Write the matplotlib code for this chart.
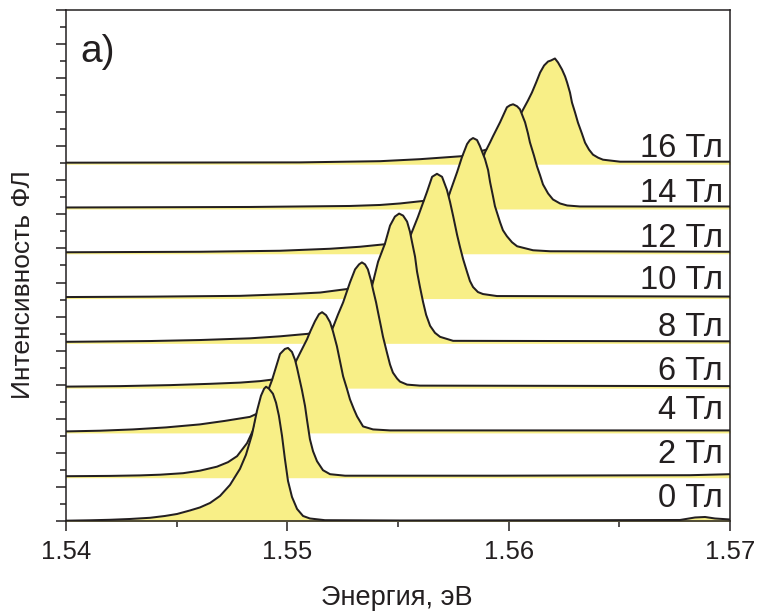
import matplotlib
matplotlib.use('Agg')
import matplotlib.pyplot as plt
from matplotlib.ticker import MultipleLocator, FormatStrFormatter

plt.rcParams['font.family'] = ['Liberation Sans', 'DejaVu Sans']

# magnetic fields (T) and their labels
fields = [0, 2, 4, 6, 8, 10, 12, 14, 16]
labels = [f"{b} Тл" for b in fields]
# vertical offsets of each spectrum (arb. units)
offsets = [0, 44.7, 89.4, 134.1, 178.8, 223.5, 268.2, 312.9, 357.6]

# PL spectra: energy (eV) and intensity (arb. units)
E0 = [1.5400, 1.54108, 1.54199, 1.54289, 1.54380, 1.54447, 1.54502, 1.54560, 1.54605, 1.54651,
      1.54696, 1.54741, 1.54786, 1.54813, 1.54840, 1.54863, 1.54881, 1.54895, 1.54904, 1.54917,
      1.54935, 1.54949, 1.54962, 1.54976, 1.54989, 1.55003, 1.55021, 1.55044, 1.55071, 1.55102,
      1.55170, 1.55509, 1.56413, 1.56774, 1.56842, 1.56887, 1.56932, 1.5700]
I0 = [0.3, 0.7, 1.2, 2.0, 3.2, 5, 7, 10.5, 13.5, 18,
      25, 36, 52, 66, 86, 110, 125, 132, 134, 132,
      127, 118, 105, 85, 62, 40, 24, 12, 5, 2.5,
      0.8, 0.5, 0.8, 1.0, 3.5, 4, 2.5, 1.5]

E2 = [1.5400, 1.54199, 1.54334, 1.54425, 1.54529, 1.54605, 1.54682, 1.54732, 1.54773, 1.54818,
      1.54854, 1.54890, 1.54931, 1.54967, 1.54989, 1.55003, 1.55021, 1.55035, 1.55044, 1.55066,
      1.55080, 1.55089, 1.55102, 1.55116, 1.55134, 1.55161, 1.55193, 1.55261, 1.55961, 1.56819,
      1.5700]
I2 = [0, 0.3, 0.8, 1.5, 3, 5.5, 9.5, 14, 20, 33,
      50, 72, 96, 122, 127, 128, 124, 116, 108, 86,
      70, 56, 37, 25, 15, 6, 2, 0.5, 0.5, 1,
      2]

E4 = [1.5400, 1.54154, 1.54303, 1.54452, 1.54605, 1.54718, 1.54831, 1.54886, 1.54944, 1.55012,
      1.55057, 1.55089, 1.55102, 1.55125, 1.55143, 1.55157, 1.55175, 1.55193, 1.55206, 1.55224,
      1.55238, 1.55252, 1.55270, 1.55283, 1.55301, 1.55315, 1.55342, 1.55387, 1.55464, 1.5700]
I4 = [0, 0.7, 2, 4, 7, 10.5, 14.5, 20, 35, 58,
      78, 92, 99, 110, 117, 119, 116, 109, 100, 85,
      70, 55, 42, 32, 22, 15, 5, 2, 1, 1]

E6 = [1.5400, 1.54244, 1.54470, 1.54651, 1.54786, 1.54877, 1.54931, 1.55012, 1.55102, 1.55170,
      1.55206, 1.55229, 1.55252, 1.55283, 1.55306, 1.55324, 1.55337, 1.55351, 1.55364, 1.55378,
      1.55387, 1.55401, 1.55410, 1.55423, 1.55432, 1.55450, 1.55464, 1.55477, 1.55496, 1.55509,
      1.55541, 1.55599, 1.5700]
I6 = [0, 0.5, 1.5, 2.8, 4, 5.5, 7, 12, 22, 40,
      59, 72, 84, 104, 117, 122, 124, 122, 117, 106,
      97, 84, 74, 60, 50, 34, 22, 14, 8, 5,
      2, 1, 0.5]

E8 = [1.5400, 1.54380, 1.54605, 1.54831, 1.54967, 1.55093, 1.55193, 1.55283, 1.55351, 1.55383,
      1.55410, 1.55441, 1.55464, 1.55486, 1.55505, 1.55523, 1.55541, 1.55554, 1.55563, 1.55577,
      1.55586, 1.55599, 1.55613, 1.55627, 1.55645, 1.55667, 1.55690, 1.55749, 1.5700]
I8 = [0, 0.8, 1.8, 3.5, 5.5, 8, 13, 28, 45, 56,
      80, 98, 116, 125, 128, 126, 120, 110, 100, 85,
      70, 55, 40, 27, 16, 9, 5, 1, 0.5]

E10 = [1.5400, 1.54380, 1.54786, 1.55012, 1.55148, 1.55270, 1.55374, 1.55464, 1.55532, 1.55554,
       1.55590, 1.55631, 1.55654, 1.55676, 1.55699, 1.55721, 1.55735, 1.55749, 1.55767, 1.55780,
       1.55794, 1.55812, 1.55825, 1.55839, 1.55861, 1.55884, 1.55947, 1.5700]
I10 = [0, 0.4, 1.2, 3, 4.5, 8, 14, 28, 45, 60,
       80, 105, 120, 123, 120, 107, 95, 81, 62, 50,
       38, 25, 16, 10, 5, 3, 1, 0.5]

E12 = [1.5400, 1.54605, 1.54967, 1.55193, 1.55328, 1.55441, 1.55554, 1.55645, 1.55712, 1.55735,
       1.55767, 1.55789, 1.55812, 1.55825, 1.55839, 1.55857, 1.55870, 1.55893, 1.55907, 1.55916,
       1.55929, 1.55938, 1.55961, 1.55974, 1.55992, 1.56015, 1.56038, 1.56110, 1.56187, 1.5700]
I12 = [0, 0.5, 1.5, 3.5, 5.5, 8, 14, 25, 45, 60,
       80, 95, 108, 112, 114, 112, 106, 93, 82, 70,
       56, 46, 30, 22, 16, 10, 6, 2, 1, 0.5]

E14 = [1.5400, 1.54831, 1.55283, 1.55419, 1.55509, 1.55613, 1.55735, 1.55825, 1.55870, 1.55893,
       1.55916, 1.55929, 1.55961, 1.55992, 1.56006, 1.56020, 1.56038, 1.56051, 1.56074, 1.56087,
       1.56096, 1.56114, 1.56128, 1.56142, 1.56155, 1.56178, 1.56200, 1.56232, 1.56264, 1.56322,
       1.5700]
I14 = [0, 0.5, 1.5, 2.5, 4, 6.5, 13, 23, 40, 55,
       65, 71, 85, 100, 102, 103, 101, 98, 85, 74,
       65, 52, 41, 32, 23, 14, 8, 4, 2, 1,
       1]

E16 = [1.5400, 1.55057, 1.55419, 1.55599, 1.55789, 1.55916, 1.55983, 1.56029, 1.56065, 1.56087,
       1.56105, 1.56124, 1.56142, 1.56160, 1.56178, 1.56191, 1.56209, 1.56223, 1.56241, 1.56255,
       1.56264, 1.56277, 1.56286, 1.56300, 1.56313, 1.56331, 1.56345, 1.56363, 1.56381, 1.56404,
       1.56426, 1.56503, 1.5700]
I16 = [0, 0.3, 1.5, 3.5, 6.5, 14, 25, 38, 53, 62,
       70, 80, 90, 97, 101, 102, 104, 100, 93, 86,
       80, 70, 60, 50, 40, 29, 20, 13, 8, 5,
       3, 1, 1]

energies = [E0, E2, E4, E6, E8, E10, E12, E14, E16]
intensities = [I0, I2, I4, I6, I8, I10, I12, I14, I16]

# label vertical padding above each baseline (style)
label_pad = [14, 13, 12, 7, 6, 8, 5, 5, 6]

ink = '#231F20'
fill = '#F8EF87'

fig = plt.figure(figsize=(7.61, 6.13), dpi=100)
ax = fig.add_axes([0.0867, 0.1501, 0.8726, 0.8336])

n = len(fields)
for k in range(n):
    e = energies[k]
    y = [v + offsets[k] for v in intensities[k]]
    z = 2 * (n - k)
    ax.fill_between(e, y, offsets[k] - 1.5, color=fill, lw=0, zorder=z)
    ax.plot(e, y, color=ink, lw=1.45, zorder=z + 1, solid_joinstyle='round')
    ax.text(1.56968, offsets[k] + label_pad[k], labels[k], ha='right', va='baseline',
            fontsize=23.5, color=ink, zorder=40)

ax.set_xlim(1.54, 1.57)
ax.set_ylim(0, 510)
ax.xaxis.set_major_locator(MultipleLocator(0.01))
ax.xaxis.set_minor_locator(MultipleLocator(0.005))
ax.xaxis.set_major_formatter(FormatStrFormatter('%.2f'))
ax.yaxis.set_major_locator(MultipleLocator(34))
ax.yaxis.set_minor_locator(MultipleLocator(17))
ax.tick_params(axis='both', which='major', direction='out', length=7.5, width=1.1,
               color=ink, labelsize=18.5, labelcolor=ink, pad=6)
ax.tick_params(axis='both', which='minor', direction='out', length=4.5, width=1.1, color=ink)
ax.tick_params(axis='y', labelleft=False)
for s in ax.spines.values():
    s.set_linewidth(1.1)
    s.set_color(ink)
    s.set_zorder(50)

ax.text(0.021, 0.898, 'a)', transform=ax.transAxes, fontsize=28, color=ink,
        ha='left', va='baseline')

fig.text(397 / 761, 1 - 605 / 613, 'Энергия, эВ', ha='center', va='baseline',
         fontsize=19.5, color=ink)
fig.text(23 / 761, 1 - 285 / 613, 'Интенсивность ФЛ', ha='center', va='center',
         rotation=90, fontsize=19, color=ink)

fig.savefig('out.png', dpi=100)
